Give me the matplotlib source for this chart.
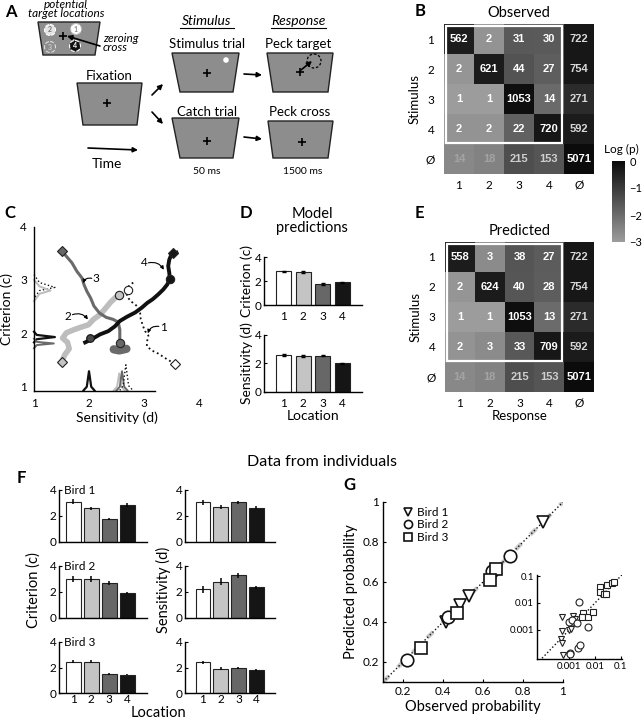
"""Multi-panel figure: task schematic, confusion matrices, model fits and per-bird data."""
import numpy as np
import matplotlib
matplotlib.use("Agg")
import matplotlib.pyplot as plt
from matplotlib.colors import LinearSegmentedColormap
from matplotlib.patches import Polygon, Circle, Rectangle

plt.rcParams["font.family"] = ["Lato", "DejaVu Sans"]
plt.rcParams["font.size"] = 8
plt.rcParams["axes.linewidth"] = 1.0

# ---------------- data ----------------
LOCATIONS = [1, 2, 3, 4]
LOC_COLORS = ["white", "#c4c4c4", "#676767", "#151515"]

MATRIX_LABELS = ["1", "2", "3", "4", "Ø"]
OBSERVED = [[562, 2, 31, 30, 722],
            [2, 621, 44, 27, 754],
            [1, 1, 1053, 14, 271],
            [2, 2, 22, 720, 592],
            [14, 18, 215, 153, 5071]]
PREDICTED = [[558, 3, 38, 27, 722],
             [2, 624, 40, 28, 754],
             [1, 1, 1053, 13, 271],
             [2, 3, 33, 709, 592],
             [14, 18, 215, 153, 5071]]

# panel C: trajectories in (sensitivity, criterion) space
TRAJ1_D = [3.56, 3.41, 3.26, 3.14, 3.05, 3.06, 3.08, 3.02, 2.98, 2.94, 2.93, 2.90, 2.84, 2.76, 2.70, 2.67, 2.72, 2.79, 2.84]
TRAJ1_C = [1.43, 1.52, 1.62, 1.68, 1.76, 1.87, 1.96, 2.04, 2.14, 2.27, 2.38, 2.48, 2.54, 2.60, 2.68, 2.79, 2.88, 2.94, 2.97]
TRAJ2_D = [1.50, 1.56, 1.64, 1.61, 1.52, 1.59, 1.73, 1.87, 1.99, 2.08, 2.20, 2.31, 2.39, 2.47, 2.55]
TRAJ2_C = [1.46, 1.60, 1.71, 1.83, 1.91, 2.01, 2.07, 2.12, 2.16, 2.26, 2.35, 2.48, 2.58, 2.66, 2.71]
TRAJ3_D = [1.50, 1.59, 1.69, 1.78, 1.87, 1.91, 1.96, 2.03, 2.09, 2.19, 2.31, 2.44, 2.53, 2.56, 2.56, 2.56]
TRAJ3_C = [3.55, 3.44, 3.32, 3.16, 3.04, 2.91, 2.79, 2.66, 2.51, 2.38, 2.30, 2.26, 2.21, 2.07, 1.94, 1.81]
TRAJ4_D = [1.93, 2.05, 2.20, 2.35, 2.47, 2.56, 2.69, 2.84, 2.96, 3.06, 3.16, 3.26, 3.35, 3.42, 3.47, 3.46, 3.44, 3.46, 3.50, 3.59]
TRAJ4_C = [1.83, 1.89, 1.98, 2.04, 2.13, 2.23, 2.31, 2.39, 2.48, 2.57, 2.64, 2.73, 2.82, 2.91, 3.01, 3.13, 3.26, 3.38, 3.48, 3.51]
BLOB3_D = [2.45, 2.55, 2.68]
BLOB3_C = [1.70, 1.68, 1.71]
START_D = [3.56, 1.50, 1.50, 3.52]
START_C = [1.43, 1.46, 3.55, 3.51]
END_D = [2.70, 2.55, 2.56, 3.47]
END_C = [2.82, 2.71, 1.81, 3.01]
EXTRA_D, EXTRA_C = 2.02, 1.91

# marginal distributions drawn on the axes edges
MARG_LEFT_C = [[2.03, 1.97, 1.93, 1.89, 1.83], [1.90, 1.84, 1.81, 1.78, 1.72],
               [3.10, 2.95, 2.86, 2.80, 2.65], [3.00, 2.88, 2.80, 2.74, 2.60]]
MARG_LEFT_H = [[1.0, 1.05, 1.38, 1.05, 1.0], [1.0, 1.05, 1.36, 1.05, 1.0],
               [1.0, 1.10, 1.38, 1.10, 1.0], [1.0, 1.10, 1.30, 1.10, 1.0]]
MARG_BOT_D = [[1.90, 1.96, 2.00, 2.04, 2.10], [2.45, 2.51, 2.55, 2.59, 2.65],
              [2.50, 2.56, 2.60, 2.64, 2.70], [2.56, 2.62, 2.67, 2.72, 2.80]]
MARG_BOT_H = [[0.93, 1.00, 1.29, 1.00, 0.93], [0.93, 1.00, 1.25, 1.00, 0.93],
              [0.93, 1.00, 1.29, 1.00, 0.93], [0.93, 1.02, 1.41, 1.02, 0.93]]

# panel D: model predictions
MODEL_CRIT = [2.80, 2.75, 1.75, 1.90]
MODEL_CRIT_ERR = [0.06, 0.06, 0.05, 0.05]
MODEL_SENS = [2.60, 2.55, 2.55, 2.00]
MODEL_SENS_ERR = [0.06, 0.06, 0.05, 0.05]

# panel F: individual birds
BIRDS = ["Bird 1", "Bird 2", "Bird 3"]
BIRD_CRIT = [[3.10, 2.60, 1.80, 2.85], [3.00, 3.00, 2.70, 1.95], [2.45, 2.45, 1.50, 1.45]]
BIRD_CRIT_ERR = [[0.18, 0.12, 0.08, 0.12], [0.25, 0.25, 0.15, 0.08], [0.10, 0.10, 0.08, 0.06]]
BIRD_SENS = [[3.05, 2.70, 3.05, 2.65], [2.20, 2.80, 3.30, 2.35], [2.40, 1.90, 1.95, 1.80]]
BIRD_SENS_ERR = [[0.20, 0.15, 0.12, 0.12], [0.25, 0.25, 0.20, 0.12], [0.12, 0.12, 0.10, 0.08]]

# panel G: observed vs predicted probabilities
G_OBS = [[0.90, 0.53, 0.485, 0.415], [0.427, 0.735, 0.643, 0.218], [0.665, 0.635, 0.468, 0.29]]
G_PRED = [[0.899, 0.532, 0.483, 0.399], [0.424, 0.732, 0.657, 0.212], [0.666, 0.611, 0.446, 0.269]]
INSET_OBS = [[0.00054, 0.0014, 0.00054, 0.00098, 0.0012, 0.00049, 0.00052, 0.00057, 0.0016],
             [0.0024, 0.00098, 0.0013, 0.0055, 0.00105, 0.0011, 0.0021, 0.0027, 0.0019],
             [0.0157, 0.0305, 0.045, 0.056, 0.0157, 0.0225, 0.027, 0.0033, 0.0030, 0.0055, 0.0081]]
INSET_PRED = [[0.0029, 0.0033, 0.00092, 0.00094, 0.0011, 0.00045, 0.00032, 0.00011, 0.0025],
              [0.011, 0.0019, 0.0023, 0.0013, 0.00014, 0.00012, 0.00021, 0.00026, 0.0018],
              [0.038, 0.046, 0.057, 0.060, 0.026, 0.0215, 0.021, 0.0041, 0.0031, 0.0029, 0.0045]]
BIRD_MARKERS = ["v", "o", "s"]

W, H = 644, 720
fig = plt.figure(figsize=(W / 100, H / 100), dpi=100)
CMAP = LinearSegmentedColormap.from_list("logp", ["#9c9c9c", "#0a0a0a"])


def box(x0, y0, x1, y1):
    """Axes placed by pixel edges (origin top-left)."""
    return fig.add_axes([x0 / W, 1 - y1 / H, (x1 - x0) / W, (y1 - y0) / H])


def ftext(x, y, s, **kw):
    kw.setdefault("ha", "center")
    kw.setdefault("va", "center")
    fig.text(x / W, 1 - y / H, s, **kw)


def clean(ax):
    ax.spines["top"].set_visible(False)
    ax.spines["right"].set_visible(False)
    ax.tick_params(direction="in", length=2.5, pad=2, labelsize=8.5)


# ---------------- A: task schematic ----------------
axA = box(0, 0, 340, 180)
axA.set_xlim(0, 340)
axA.set_ylim(180, 0)
axA.axis("off")


def screen(y0, y1, tx0, tx1, bx0, bx1):
    axA.add_patch(Polygon([(tx0, y0), (tx1, y0), (bx1, y1), (bx0, y1)],
                          closed=True, fc="#8d8d8d", ec="#222222", lw=1))


def cross(x, y):
    axA.plot(x, y, "+", color="k", ms=6, mew=1.2)


def arrow(x0, y0, x1, y1):
    axA.annotate("", xy=(x1, y1), xytext=(x0, y0),
                 arrowprops=dict(arrowstyle="-|>", lw=1.2, color="k", mutation_scale=7,
                                 shrinkA=0, shrinkB=0))


screen(22, 55, 38, 100, 43, 95)
for (cx, cy), fc, ec, ls, lab, tc in [((50, 30), "#e4e4e4", "white", "--", "2", "#777"),
                                      ((76, 29), "white", "#bbbbbb", "--", "1", "#888"),
                                      ((50, 47), "#8d8d8d", "#dddddd", "--", "3", "#cccccc"),
                                      ((75, 46), "#111111", "white", "--", "4", "white")]:
    axA.add_patch(Circle((cx, cy), 5.5, fc=fc, ec=ec, lw=0.8, ls=ls))
    axA.text(cx, cy, lab, color=tc, fontsize=5, fontweight="bold", ha="center", va="center")
cross(63, 36)
arrow(100, 46, 67, 36)
axA.text(66, 9, "potential\ntarget locations", fontsize=8.5, style="italic", ha="center",
         va="center", linespacing=0.8)
axA.text(103, 43, "zeroing\ncross", fontsize=8.5, style="italic", ha="left", va="center",
         linespacing=0.8)

screen(83, 125, 77, 142, 83, 137)
cross(107, 103)
axA.text(109, 76, "Fixation", fontsize=9.5, ha="center", va="center")

screen(53, 92, 172, 239, 180, 233)
cross(207, 73)
axA.add_patch(Circle((226, 60), 2.8, fc="white", ec="none"))
axA.text(207, 44, "Stimulus trial", fontsize=9.5, ha="center", va="center")

screen(118, 158, 172, 239, 180, 233)
cross(207, 141)
axA.text(207, 112, "Catch trial", fontsize=9.5, ha="center", va="center")

screen(53, 92, 267, 333, 273, 328)
cross(300, 72)
axA.add_patch(Circle((314, 61), 7, fc="none", ec="k", lw=0.9, ls=(0, (2, 1.5))))
arrow(301, 70, 312, 61)
axA.text(298, 44, "Peck target", fontsize=9.5, ha="center", va="center")

screen(121, 158, 268, 333, 273, 328)
cross(302, 142)
axA.text(300, 112, "Peck cross", fontsize=9.5, ha="center", va="center")

axA.text(207, 21, "Stimulus", fontsize=10, style="italic", ha="center", va="center")
axA.plot([180, 234], [27.5, 27.5], color="k", lw=0.8)
axA.text(298, 21, "Response", fontsize=10, style="italic", ha="center", va="center")
axA.plot([271, 326], [27.5, 27.5], color="k", lw=0.8)

arrow(152, 95, 163, 84)
arrow(152, 112, 163, 124)
arrow(244, 74, 262, 75)
arrow(244, 137, 262, 139)
arrow(88, 148, 138, 150)
axA.text(107, 164, "Time", fontsize=10, ha="center", va="center")
axA.text(207, 172, "50 ms", fontsize=7.5, ha="center", va="center")
axA.text(303, 172, "1500 ms", fontsize=7.5, ha="center", va="center")
ftext(11, 12, "A", fontsize=12, fontweight="bold")

# ---------------- B / E: confusion matrices ----------------
text_colors = [["white"] * 4 + ["#d8d8d8"] for _ in range(4)]
text_colors.append(["#a4a4a4", "#a4a4a4", "#cfcfcf", "#cfcfcf", "white"])


def draw_matrix(ax, counts, title, xlabel=None):
    counts = np.array(counts, dtype=float)
    logp = np.log10(counts / counts.sum(axis=1, keepdims=True))
    im = ax.imshow(logp, cmap=CMAP, vmin=-3, vmax=0, aspect="auto")
    for i in range(len(MATRIX_LABELS)):
        for j in range(len(MATRIX_LABELS)):
            ax.text(j, i, f"{int(counts[i, j])}", ha="center", va="center",
                    color=text_colors[i][j], fontsize=8, fontweight="bold",
                    family=["Liberation Sans", "DejaVu Sans"])
    ax.add_patch(Rectangle((-0.42, -0.44), 3.86, 3.9, fill=False, ec="white", lw=1.6))
    ax.set_xticks(range(5))
    ax.set_yticks(range(5))
    ax.set_xticklabels(MATRIX_LABELS)
    ax.set_yticklabels(MATRIX_LABELS)
    ax.tick_params(length=0, labelsize=8.5)
    ax.tick_params(axis="x", pad=4)
    ax.tick_params(axis="y", pad=7)
    for sp in ax.spines.values():
        sp.set_visible(False)
    ax.set_title(title, fontsize=10.5, pad=5)
    ax.set_ylabel("Stimulus", fontsize=9.5, labelpad=3)
    if xlabel:
        ax.set_xlabel(xlabel, fontsize=9.5, labelpad=1)
    return im


axB = box(444, 24, 594, 174)
im = draw_matrix(axB, OBSERVED, "Observed")
axE = box(445, 242, 594, 392)
draw_matrix(axE, PREDICTED, "Predicted", "Response")
ftext(420, 11, "B", fontsize=12, fontweight="bold")
ftext(419, 213, "E", fontsize=12, fontweight="bold")

cax = box(612, 161, 625, 242)
cb = fig.colorbar(im, cax=cax, ticks=[0, -1, -2, -3])
cb.outline.set_visible(False)
cb.ax.tick_params(length=0, labelsize=8, pad=3)
cb.ax.set_yticklabels(["0", "\u22121", "\u22122", "\u22123"])
ftext(621, 149, "Log (p)", fontsize=8.5)

# ---------------- C: trajectories ----------------
axC = box(34, 226.5, 199, 391)
axC.set_xlim(1, 4)
axC.set_ylim(0.92, 4)
clean(axC)
axC.tick_params(length=0, pad=5)
axC.spines["bottom"].set_bounds(1, 3.2)
axC.set_xticks([1, 2, 3, 4])
axC.set_yticks([1, 2, 3, 4])
axC.set_xlabel("Sensitivity (d)", fontsize=10, labelpad=2)
axC.set_ylabel("Criterion (c)", fontsize=10, labelpad=5)

marg_styles = [dict(color="#111111", lw=1.6), dict(color="#6a6a6a", lw=1.4),
               dict(color="#111111", lw=1.0, ls=":"), dict(color="#bdbdbd", lw=1.4)]
for cs, hs, st in zip(MARG_LEFT_C, MARG_LEFT_H, marg_styles):
    axC.plot(hs, cs, clip_on=False, **st)
bot_styles = [dict(color="#111111", lw=1.6), dict(color="#bdbdbd", lw=1.4),
              dict(color="#6a6a6a", lw=1.4), dict(color="#111111", lw=1.0, ls=":")]
for ds, hs, st in zip(MARG_BOT_D, MARG_BOT_H, bot_styles):
    axC.plot(ds, hs, clip_on=False, **st)

axC.plot(TRAJ2_D, TRAJ2_C, color="#bdbdbd", lw=4, solid_capstyle="round")
axC.plot(TRAJ3_D, TRAJ3_C, color="#6a6a6a", lw=2.2)
axC.plot(BLOB3_D, BLOB3_C, color="#6a6a6a", lw=6, solid_capstyle="round")
axC.plot(TRAJ4_D, TRAJ4_C, color="#111111", lw=2.8)
axC.plot(TRAJ1_D, TRAJ1_C, color="#111111", lw=1.3, ls=":")
for d, c, col in zip(START_D, START_C, LOC_COLORS):
    axC.plot(d, c, "D", ms=5, mfc=col, mec="#222222", mew=0.8)
for d, c, col in zip(END_D, END_C, LOC_COLORS):
    axC.plot(d, c, "o", ms=6, mfc=col, mec="#222222", mew=0.8)
axC.plot(EXTRA_D, EXTRA_C, "o", ms=5.5, mfc="#4a4a4a", mec="#111111", mew=0.8)

for lab, (tx, ty), (ax0, ay0), (ax1, ay1), rad in [
        ("1", (3.36, 2.10), (3.27, 2.13), (3.07, 2.00), 0.4),
        ("2", (1.62, 2.32), (1.70, 2.35), (1.98, 2.26), -0.35),
        ("3", (2.13, 3.02), (2.05, 3.03), (1.89, 2.94), 0.4),
        ("4", (3.00, 3.32), (3.08, 3.32), (3.36, 3.19), -0.35)]:
    axC.text(tx, ty, lab, fontsize=8.5, ha="center", va="center")
    axC.annotate("", xy=(ax1, ay1), xytext=(ax0, ay0),
                 arrowprops=dict(arrowstyle="-|>", lw=0.8, color="k", mutation_scale=5,
                                 connectionstyle=f"arc3,rad={rad}", shrinkA=0, shrinkB=0))
ftext(10, 213, "C", fontsize=12, fontweight="bold")

# ---------------- D: model predictions ----------------
axD1 = box(264, 257, 362, 305)
axD2 = box(264, 335, 362, 392)
for ax, vals, errs, lab in [(axD1, MODEL_CRIT, MODEL_CRIT_ERR, "Criterion (c)"),
                            (axD2, MODEL_SENS, MODEL_SENS_ERR, "Sensitivity (d)")]:
    ax.bar(LOCATIONS, vals, width=0.75, color=LOC_COLORS, edgecolor="#222222", lw=0.8)
    ax.errorbar(LOCATIONS, vals, yerr=errs, fmt="none", ecolor="k", elinewidth=1, capsize=1.5)
    clean(ax)
    ax.set_xlim(0, 5)
    ax.set_ylim(0, 4)
    ax.set_yticks([0, 2, 4])
    ax.set_xticks(LOCATIONS)
    ax.tick_params(axis="x", length=0, pad=4)
    ax.set_ylabel(lab, fontsize=10, labelpad=1)
axD2.set_xlabel("Location", fontsize=10, labelpad=1)
ftext(312, 221, "Model\npredictions", fontsize=10.5, linespacing=0.95)
ftext(246, 213, "D", fontsize=12, fontweight="bold")

# ---------------- F: individual birds ----------------
ftext(322, 462, "Data from individuals", fontsize=11.5)
rows = [(490, 542), (566, 618), (642, 693)]
for k, (y0, y1) in enumerate(rows):
    axl = box(59, y0, 147, y1)
    axr = box(185, y0, 275, y1)
    for ax, vals, errs, xl in [(axl, BIRD_CRIT[k], BIRD_CRIT_ERR[k], (0.2, 5.1)),
                               (axr, BIRD_SENS[k], BIRD_SENS_ERR[k], (0.0, 5.05))]:
        ax.bar(LOCATIONS, vals, width=0.82, color=LOC_COLORS, edgecolor="#222222", lw=0.8)
        ax.errorbar(LOCATIONS, vals, yerr=errs, fmt="none", ecolor="k", elinewidth=1.1, capsize=0)
        clean(ax)
        ax.set_xlim(*xl)
        ax.set_ylim(0, 4)
        ax.set_yticks([0, 2, 4])
        ax.set_xticks(LOCATIONS)
        ax.tick_params(axis="x", length=0, pad=1)
        if k < 2:
            ax.set_xticklabels([])
    axl.text(0.06, 1.0, BIRDS[k], transform=axl.transAxes, fontsize=8.5, ha="left", va="center")
ftext(34, 590, "Criterion (c)", fontsize=10.5, rotation=90)
ftext(163, 590, "Sensitivity (d)", fontsize=10.5, rotation=90)
ftext(158, 713, "Location", fontsize=10.5)
ftext(21, 478, "F", fontsize=12, fontweight="bold")

# ---------------- G: observed vs predicted ----------------
axG = box(383, 502, 563, 682)
clean(axG)
axG.set_xlim(0.1, 1.0)
axG.set_ylim(0.1, 1.0)
axG.plot([0.1, 1.0], [0.1, 1.0], color="#c8c8c8", lw=3, ls=(0, (2, 3)))
axG.plot([0.1, 1.0], [0.1, 1.0], color="#111111", lw=1, ls=":")
for obs, pred, m, lab in zip(G_OBS, G_PRED, BIRD_MARKERS, BIRDS):
    axG.plot(obs, pred, m, ms=9 if m != "s" else 8, mfc="white", mec="#111111", mew=1.2,
             label=lab, ls="none")
axG.set_xticks([0.2, 0.4, 0.6, 0.8, 1.0])
axG.set_xticklabels(["0.2", "0.4", "0.6", "0.8", "1"])
axG.set_yticks([0.2, 0.4, 0.6, 0.8, 1.0])
axG.set_yticklabels(["0.2", "0.4", "0.6", "0.8", "1"])
axG.tick_params(pad=3)
axG.set_xlabel("Observed probability", fontsize=10.5, labelpad=2)
axG.set_ylabel("Predicted probability", fontsize=10.5, labelpad=3)
axG.legend(loc="upper left", bbox_to_anchor=(0.06, 1.02), frameon=False, fontsize=8.5,
           markerscale=0.65, handletextpad=0.3, labelspacing=0.15, borderpad=0.2,
           handlelength=1.0)
ftext(349, 485, "G", fontsize=12, fontweight="bold")

axI = box(537, 575, 622, 659)
axI.set_xscale("log")
axI.set_yscale("log")
axI.set_xlim(10 ** -4.26, 10 ** -0.95)
axI.set_ylim(10 ** -4.09, 10 ** -0.96)
axI.plot([10 ** -4.26, 10 ** -0.95], [10 ** -4.26, 10 ** -0.95], color="#111111", lw=1, ls=":")
for obs, pred, m in zip(INSET_OBS, INSET_PRED, BIRD_MARKERS):
    axI.plot(obs, pred, m, ms=5, mfc="white", mec="#222222", mew=0.8, ls="none")
clean(axI)
axI.minorticks_off()
axI.set_xticks([1e-3, 1e-2, 1e-1])
axI.set_xticklabels(["0.001", "0.01", "0.1"])
axI.set_yticks([1e-3, 1e-2, 1e-1])
axI.set_yticklabels(["0.001", "0.01", "0.1"])
axI.tick_params(labelsize=7, length=2)
axI.patch.set_alpha(0)

fig.savefig("out.png", dpi=100)
